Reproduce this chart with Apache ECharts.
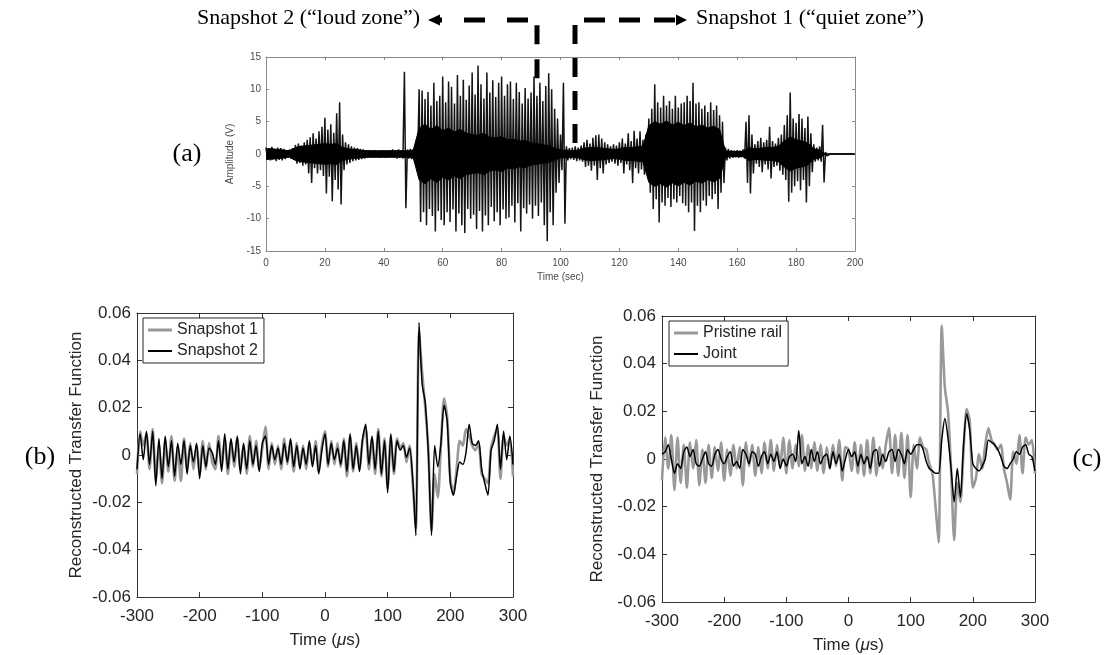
<!DOCTYPE html>
<html>
<head>
<meta charset="utf-8">
<script src="https://cdn.jsdelivr.net/npm/echarts@6/dist/echarts.min.js"></script>
<style>
html,body{margin:0;padding:0;background:#fff;}
#c{width:1114px;height:655px;}
</style>
</head>
<body>
<div id="c"></div>
<script>
// ---------- Panel (a): acoustic record, amplitude (V) vs time (sec) ----------
// positive / negative swing, one value per second (0..199 s)
const spikeUp = [
1.0,0.9,1.1,0.8,1.0,0.9,0.8,0.6,0.7,0.9,
1.4,1.6,1.3,1.8,2.2,2.6,3.2,2.4,3.5,4.2,
5.6,3.8,4.6,3.3,6.3,8.0,3.0,1.8,1.5,1.2,
1.0,0.9,0.8,0.7,0.6,0.6,0.5,0.6,0.5,0.6,
0.6,0.5,0.6,0.7,0.6,0.7,0.6,12.7,0.7,0.8,
0.7,0.9,10.0,9.8,8.5,9.6,7.5,11.0,8.2,9.0,
12.0,8.0,11.2,10.4,7.8,12.2,9.0,11.5,8.4,10.6,
12.6,9.2,13.7,10.8,8.6,12.6,9.5,11.4,8.8,11.0,
12.0,9.0,10.8,11.2,8.5,11.0,9.6,7.8,10.2,8.6,
9.5,12.0,9.0,11.0,8.2,10.5,12.5,10.0,7.0,5.5,
3.0,11.0,1.2,0.9,1.0,1.2,1.0,1.3,1.8,2.2,
1.6,2.5,2.9,3.0,2.4,1.8,1.5,1.2,1.5,1.3,
1.8,2.4,1.6,3.2,2.0,3.6,2.4,3.5,2.2,3.0,
5.5,7.0,10.8,8.0,7.2,9.0,7.5,8.2,7.0,9.0,
7.2,7.8,8.0,9.0,8.2,11.0,7.8,8.0,7.0,7.5,
6.5,8.0,6.8,7.5,6.0,5.0,1.0,0.8,0.6,0.5,
0.6,0.5,0.7,5.0,6.0,3.0,1.5,2.0,2.5,1.8,
2.2,4.2,2.0,1.6,2.5,3.0,4.5,6.0,9.5,5.5,
4.8,6.2,5.5,4.0,5.8,3.2,1.5,1.0,1.2,4.5,
0.3,0,0,0,0,0,0,0,0,0
];
const spikeLo = [
-0.9,-1.0,-0.8,-1.1,-0.9,-1.0,-0.8,-0.6,-0.7,-0.9,
-1.5,-1.4,-1.8,-1.6,-3.0,-4.5,-2.2,-3.0,-2.5,-3.4,
-6.1,-3.5,-7.3,-4.0,-5.5,-7.8,-2.5,-1.6,-1.4,-1.1,
-1.0,-0.9,-0.8,-0.7,-0.6,-0.5,-0.6,-0.5,-0.6,-0.5,
-0.6,-0.6,-0.5,-0.6,-0.7,-0.6,-0.7,-8.4,-0.7,-0.8,
-0.7,-0.9,-10.5,-9.0,-11.0,-8.5,-9.6,-12.0,-8.8,-10.2,
-11.0,-9.0,-10.5,-8.6,-12.0,-9.2,-11.0,-12.2,-8.5,-10.0,
-9.4,-11.6,-8.8,-12.0,-9.5,-11.0,-8.2,-10.4,-9.0,-11.0,
-8.6,-10.0,-9.8,-8.0,-10.6,-7.6,-12.0,-8.4,-9.2,-7.8,
-10.0,-8.0,-9.6,-7.5,-11.0,-13.5,-9.0,-11.0,-6.0,-4.5,
-2.5,-10.8,-1.0,-0.8,-0.9,-1.1,-1.0,-1.2,-2.0,-1.8,
-2.6,-1.8,-4.0,-2.2,-3.0,-1.6,-1.4,-1.2,-1.5,-1.8,
-1.4,-3.0,-1.6,-2.5,-4.5,-2.2,-3.0,-2.4,-3.2,-2.0,
-6.0,-8.5,-7.0,-10.6,-7.5,-8.0,-6.8,-8.2,-7.0,-7.5,
-6.5,-7.6,-8.0,-9.0,-7.5,-11.9,-8.0,-9.0,-7.2,-8.0,
-6.5,-7.0,-6.2,-8.5,-6.0,-4.5,-1.0,-0.7,-0.6,-0.5,
-0.6,-0.5,-0.7,-4.5,-6.1,-3.0,-1.5,-2.0,-2.8,-1.6,
-2.4,-3.8,-2.0,-1.8,-2.6,-3.2,-4.0,-7.4,-6.0,-5.0,
-4.2,-5.6,-4.0,-7.5,-5.0,-2.8,-1.2,-1.0,-1.2,-4.4,
-0.3,0,0,0,0,0,0,0,0,0
];
// dense core amplitude (half-width), one value every 2 s (0..200 s)
const coreAmp = [
0.8,0.8,0.7,0.6,0.5,1.0,1.2,1.3,1.4,1.5,
1.6,1.5,1.6,1.0,0.8,0.7,0.6,0.5,0.5,0.5,
0.5,0.5,0.5,0.5,0.5,0.6,4.0,4.6,3.8,4.4,
3.6,4.0,3.4,3.8,3.2,3.0,2.9,3.2,2.6,2.5,
2.7,2.2,2.3,2.0,2.1,1.7,1.6,1.4,1.3,0.9,
0.6,0.6,0.5,0.6,0.9,1.0,1.0,0.9,0.8,0.7,
0.8,1.0,1.0,1.1,1.2,4.4,5.0,4.6,5.1,4.5,
4.9,4.4,4.8,4.2,4.5,4.0,4.3,3.8,0.5,0.4,
0.4,0.4,1.0,0.8,0.9,1.0,1.0,1.2,2.0,2.6,
2.2,2.0,1.7,0.8,0.6,0,0,0,0,0,
0
];
const aXTicks = {min:0, max:200, interval:20};
const aYTicks = {min:-15, max:15, interval:5};
const snapshotTimes = [92, 105];   // Snapshot 2 (loud), Snapshot 1 (quiet)

// ---------- Panels (b),(c): reconstructed transfer function, sampled every 5 us ----------
const snapshot1 = [
-.008,.010,.004,.009,-.006,.011,-.010,.004,-.012,.006,
-.007,.008,-.011,.003,-.011,.007,-.006,.005,-.006,.004,
-.008,.006,-.006,.005,-.003,-.006,.008,-.005,.007,-.008,
.006,-.005,.007,-.006,.004,-.008,.008,-.005,.006,-.006,
.003,.012,-.006,.005,-.004,.004,-.006,.007,-.004,.006,
-.007,.005,-.005,.004,-.006,.005,-.004,.006,-.007,.004,
.010,-.005,.006,-.004,.005,-.005,.007,-.009,.008,-.007,
.005,-.006,.006,.011,-.006,.007,-.008,.011,-.009,.007,
-.014,.008,-.008,.007,.003,.005,-.003,.004,-.012,-.031,
.052,.035,.020,.002,-.032,-.008,-.018,.004,.024,.016,
-.010,-.016,-.006,.006,.004,.011,.008,.004,.002,.005,
-.008,-.010,-.012,.003,.008,.011,-.010,.008,.004,.007,
-.009
];
const snapshot2 = [
-.006,.009,-.002,.010,-.004,.010,-.013,.007,-.010,.008,
-.005,.006,-.009,.005,-.004,.006,-.008,.004,-.003,.005,
-.010,.004,-.005,.003,.001,-.004,.006,-.007,.009,-.006,
.007,-.003,.008,-.008,.005,-.006,.006,-.004,.004,-.007,
.005,.008,-.004,.004,-.002,.003,-.004,.005,-.003,.007,
-.005,.004,-.006,.003,-.004,.006,-.005,.004,-.008,.002,
.009,-.004,.005,-.002,.003,-.004,.006,-.007,.009,-.006,
.004,-.007,.007,.013,-.004,.008,-.006,.010,-.008,.006,
-.016,.009,-.007,.006,.002,.004,-.001,.003,-.010,-.034,
.056,.030,.022,.000,-.034,.004,-.005,.005,.021,.014,
-.012,-.017,-.009,-.003,-.004,.001,.013,.005,.004,.006,
-.006,-.012,-.017,.002,.006,.013,-.006,.010,-.002,.008,
-.004
];
const pristineRail = [
-.009,.009,-.004,.010,-.013,.009,-.010,.006,-.012,.007,
-.004,.008,-.011,.004,-.010,.006,-.008,.005,-.005,.007,
-.009,.004,-.007,.006,-.004,.005,-.011,.007,-.003,.006,
-.007,.005,-.006,.007,-.004,.008,-.005,.006,-.003,.009,
-.006,.008,-.004,.006,-.003,.010,-.005,.006,-.004,.007,
-.005,.006,-.006,.005,-.004,.006,-.003,.008,-.009,.005,
.004,-.005,.007,-.006,.006,-.007,.008,-.006,.009,-.007,
.005,-.004,.006,.013,-.006,.010,-.007,.011,-.008,.010,
-.016,.006,-.004,.009,.005,.004,-.002,-.006,-.020,-.035,
.056,.030,.020,-.004,-.034,-.010,-.018,.003,.021,.016,
-.012,-.008,.002,-.004,.006,.013,.008,.006,.004,.006,
-.004,-.010,-.017,.003,-.002,.010,-.006,.009,.006,.008,
-.006
];
const joint = [
.002,.003,.006,.000,-.006,-.002,-.004,.003,.005,.001,
.004,-.002,-.003,.000,.003,-.002,-.003,.002,.004,.000,
-.002,.001,.003,-.003,-.001,-.004,.004,.002,-.002,.003,
.002,-.003,.001,.003,-.002,.002,-.001,.003,-.004,.000,
-.003,.001,.002,-.001,.012,-.002,.001,-.003,.004,-.001,
.003,-.002,.001,.002,-.004,.003,-.002,.002,-.005,.000,
.004,.001,.003,-.003,.002,-.002,.001,-.004,.003,.004,
-.003,.002,-.001,.003,.004,-.001,.004,.002,-.002,.004,
.002,.004,.006,.006,.004,-.001,-.004,-.005,-.006,-.006,
.008,.017,.009,-.004,-.018,-.004,-.016,.006,.019,.012,
-.002,-.004,-.005,-.003,.000,.008,.007,.006,.004,.001,
-.003,-.004,-.002,.000,.003,.002,.005,.006,.002,.001,
-.005
];
const tfXTicks = {min:-300, max:300, interval:100};
const tfYTicks = {min:-0.06, max:0.06, interval:0.02};

// ---------- build ----------
// waveform: each second swings from its positive to its negative extreme
const wave = [];
spikeUp.forEach((u, i) => { wave.push([i, u]); wave.push([i + 0.5, spikeLo[i]]); });
const coreT = coreAmp.map((_, k) => 2 * k);     // 2-second sampling
const tUs = []; for (let t = -300; t <= 300; t += 5) tUs.push(t);
const pair = (ts, vs) => vs.map((v, i) => [ts[i], v]);

const SANS = 'Liberation Sans';
const dark = '#262626';

function frameX(grid, ticks, pos, show, color, lab, tickLen) {
  return {
    type:'value', gridIndex:grid, position:pos, min:ticks.min, max:ticks.max, interval:ticks.interval,
    axisLine:{show:true, onZero:false, lineStyle:{color:color, width:1}},
    axisTick:{show:true, inside:true, length:tickLen, lineStyle:{color:color}},
    splitLine:{show:false},
    axisLabel:Object.assign({show:show}, lab)
  };
}
function frameY(grid, ticks, pos, show, color, lab, tickLen, fmt) {
  const l = Object.assign({show:show}, lab);
  if (fmt) l.formatter = fmt;
  return {
    type:'value', gridIndex:grid, position:pos, min:ticks.min, max:ticks.max, interval:ticks.interval,
    axisLine:{show:true, onZero:false, lineStyle:{color:color, width:1}},
    axisTick:{show:true, inside:true, length:tickLen, lineStyle:{color:color}},
    splitLine:{show:false},
    axisLabel:l
  };
}
const labA = {fontFamily:SANS, fontSize:10, color:'#4a4a4a', margin:7};
const labBx = {fontFamily:SANS, fontSize:17, color:dark, margin:11};
const labBy = {fontFamily:SANS, fontSize:17, color:dark, margin:6};
const fmtTF = v => Math.abs(v) < 1e-9 ? '0' : v.toFixed(2);

const xA = frameX(0, aXTicks, 'bottom', true, '#8a8a8a', labA, 3);
xA.name = 'Time (sec)'; xA.nameLocation = 'middle'; xA.nameGap = 21;
xA.nameTextStyle = {fontFamily:SANS, fontSize:10, color:'#4a4a4a'};
const yA = frameY(0, aYTicks, 'left', true, '#8a8a8a', {fontFamily:SANS, fontSize:10, color:'#4a4a4a', margin:5}, 3);
yA.name = 'Amplitude (V)'; yA.nameLocation = 'middle'; yA.nameGap = 18;
yA.nameTextStyle = {fontFamily:SANS, fontSize:10, color:'#4a4a4a'};

function tfAxes(grid) {
  const xb = frameX(grid, tfXTicks, 'bottom', true, '#333', labBx, 5);
  xb.name = 'Time ({i|μ}s)'; xb.nameLocation = 'middle'; xb.nameGap = 35;
  xb.nameTextStyle = {fontFamily:SANS, fontSize:17, color:dark,
    rich:{i:{fontFamily:SANS, fontSize:17, color:dark, fontStyle:'italic'}}};
  const yl = frameY(grid, tfYTicks, 'left', true, '#333', labBy, 5, fmtTF);
  yl.name = 'Reconstructed Transfer Function'; yl.nameLocation = 'middle';
  yl.nameGap = grid === 1 ? 52 : 56;
  yl.nameTextStyle = {fontFamily:SANS, fontSize:17, color:dark};
  return {x:[xb, frameX(grid, tfXTicks, 'top', false, '#333', {}, 5)],
          y:[yl, frameY(grid, tfYTicks, 'right', false, '#333', {}, 5)]};
}
const axB = tfAxes(1), axC = tfAxes(2);

const greyIcon = 'path://M0,0H16V2H0Z';
const blackIcon = 'path://M0,0H24V2H0Z';
function legendCfg(names, left, top) {
  return {data:[{name:names[0], icon:greyIcon}, {name:names[1], icon:blackIcon}],
    orient:'vertical', left:left, top:top,
    itemWidth:24, itemHeight:3, itemGap:3, padding:[3,6,3,5], symbolKeepAspect:true,
    borderColor:dark, borderWidth:1, backgroundColor:'#fff', selectedMode:false,
    textStyle:{fontFamily:SANS, fontSize:16, color:dark, lineHeight:18}};
}

const option = {
  animation:false,
  backgroundColor:'#fff',
  grid:[
    {left:266, top:57, width:589, height:194},
    {left:137, top:313, width:376, height:284},
    {left:662, top:316, width:373, height:286}
  ],
  xAxis:[xA, frameX(0, aXTicks, 'top', false, '#8a8a8a', {}, 3), axB.x[0], axB.x[1], axC.x[0], axC.x[1]],
  yAxis:[yA, frameY(0, aYTicks, 'right', false, '#8a8a8a', {}, 3), axB.y[0], axB.y[1], axC.y[0], axC.y[1]],
  legend:[legendCfg(['Snapshot 1','Snapshot 2'], 143, 318), legendCfg(['Pristine rail','Joint'], 669, 321)],
  series:[
    {type:'line', xAxisIndex:0, yAxisIndex:0, symbol:'none', data:pair(coreT, coreAmp),
     lineStyle:{color:'#000', width:1}, areaStyle:{color:'#000', opacity:1}, z:3},
    {type:'line', xAxisIndex:0, yAxisIndex:0, symbol:'none', data:pair(coreT, coreAmp.map(v => -v)),
     lineStyle:{color:'#000', width:1}, areaStyle:{color:'#000', opacity:1}, z:3},
    {type:'line', xAxisIndex:0, yAxisIndex:0, symbol:'none', data:wave,
     lineStyle:{color:'#141414', width:1.5}, z:2},
    {name:'Snapshot 1', type:'line', xAxisIndex:2, yAxisIndex:2, symbol:'none', smooth:0.25, data:pair(tUs, snapshot1),
     lineStyle:{color:'#999', width:2.6}, itemStyle:{color:'#999'}},
    {name:'Snapshot 2', type:'line', xAxisIndex:2, yAxisIndex:2, symbol:'none', smooth:0.25, data:pair(tUs, snapshot2),
     lineStyle:{color:'#000', width:1.5}, itemStyle:{color:'#000'}},
    {name:'Pristine rail', type:'line', xAxisIndex:4, yAxisIndex:4, symbol:'none', smooth:0.25, data:pair(tUs, pristineRail),
     lineStyle:{color:'#999', width:2.6}, itemStyle:{color:'#999'}},
    {name:'Joint', type:'line', xAxisIndex:4, yAxisIndex:4, symbol:'none', smooth:0.25, data:pair(tUs, joint),
     lineStyle:{color:'#000', width:1.5}, itemStyle:{color:'#000'}}
  ]
};

const chart = echarts.init(document.getElementById('c'), null, {renderer:'canvas'});
chart.setOption(option);

// ---------- annotations: snapshot arrows & panel labels ----------
const pL = chart.convertToPixel({gridIndex:0}, [snapshotTimes[0], 11.7]);
const pR = chart.convertToPixel({gridIndex:0}, [snapshotTimes[1], 1.7]);
const yTop = 20;
const dashStyle = {stroke:'#000', lineWidth:5, fill:null};
const xl = Math.round(pL[0]), xr = Math.round(pR[0]);
chart.setOption({
  graphic:[
    {type:'polyline', shape:{points:[[xl, pL[1]], [xl, yTop - 2.5]]}, style:Object.assign({lineDash:[19,15]}, dashStyle), z:100},
    {type:'polyline', shape:{points:[[xl - 9, yTop], [xl - 97, yTop]]}, style:Object.assign({lineDash:[21,22]}, dashStyle), z:100},
    {type:'polygon', shape:{points:[[xl - 109, yTop], [xl - 97, yTop - 5.5], [xl - 97, yTop + 5.5]]}, style:{fill:'#000'}, z:100},
    {type:'polyline', shape:{points:[[xr, pR[1]], [xr, yTop - 2.5]]}, style:Object.assign({lineDash:[19,14]}, dashStyle), z:100},
    {type:'polyline', shape:{points:[[xr + 9, yTop], [xr + 101, yTop]]}, style:Object.assign({lineDash:[21,14]}, dashStyle), z:100},
    {type:'polygon', shape:{points:[[xr + 112, yTop], [xr + 101, yTop - 5.5], [xr + 101, yTop + 5.5]]}, style:{fill:'#000'}, z:100},
    {type:'text', style:{text:'Snapshot 2 (\u201cloud zone\u201d)', x:xl - 117, y:yTop - 2, align:'right', verticalAlign:'middle',
      font:'22px "Liberation Serif"', fill:'#000'}, z:100},
    {type:'text', style:{text:'Snapshot 1 (\u201cquiet zone\u201d)', x:xr + 121, y:yTop - 2, align:'left', verticalAlign:'middle',
      font:'22px "Liberation Serif"', fill:'#000'}, z:100},
    {type:'text', style:{text:'(a)', x:187, y:154, align:'center', verticalAlign:'middle', font:'26px "Liberation Serif"', fill:'#000'}, z:100},
    {type:'text', style:{text:'(b)', x:40, y:457, align:'center', verticalAlign:'middle', font:'26px "Liberation Serif"', fill:'#000'}, z:100},
    {type:'text', style:{text:'(c)', x:1087, y:459, align:'center', verticalAlign:'middle', font:'26px "Liberation Serif"', fill:'#000'}, z:100}
  ]
});
</script>
</body>
</html>
